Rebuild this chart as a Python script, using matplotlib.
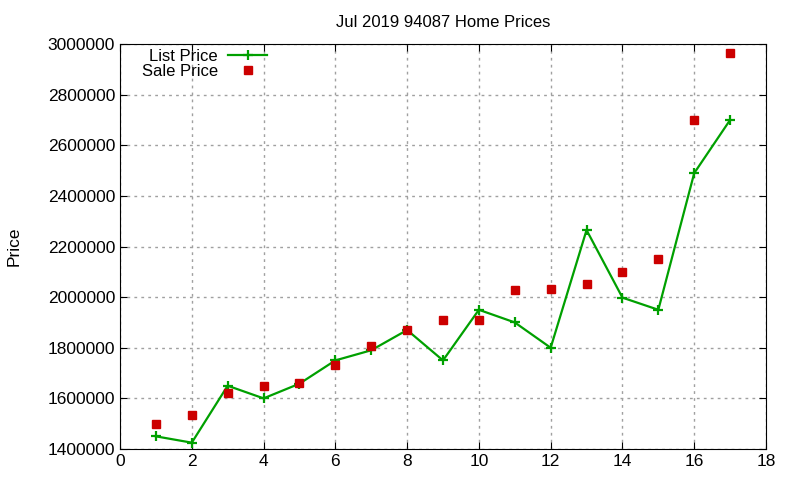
import matplotlib
matplotlib.use('agg')
import matplotlib.pyplot as plt

# values
months = list(range(1, 18))
list_price = [1450000, 1425000, 1650000, 1600000, 1658000, 1750000, 1790000, 1870000, 1750000,
              1950000, 1900000, 1800000, 2265000, 1998000, 1950000, 2490000, 2700000]
sale_price = [1499000, 1535000, 1620000, 1650000, 1659000, 1730000, 1805000, 1870000, 1910000,
              1910000, 2030000, 2034000, 2050000, 2100000, 2150000, 2700000, 2965000]

plt.rcParams['font.family'] = ['Liberation Sans', 'DejaVu Sans']

fig = plt.figure(figsize=(8, 4.8), dpi=100)
ax = fig.add_axes([0.15, 0.0646, 0.8075, 0.8437])

ax.plot(months, list_price, color='#00a000', lw=1.6, marker='+', ms=7, mew=1.6, label='List Price')
ax.plot(months, sale_price, ls='none', color='#cc0000', marker='s', ms=5.5, label='Sale Price')

ax.set_xlim(0, 18)
ax.set_ylim(1400000, 3000000)
ax.set_xticks(range(0, 19, 2))
ax.set_yticks(range(1400000, 3000001, 200000))
ax.set_yticklabels([str(v) for v in range(1400000, 3000001, 200000)])
ax.tick_params(direction='in', top=True, right=True, labelsize=12.5, length=5)
ax.grid(True, ls=(0, (2, 3)), color='#a0a0a0', lw=1)

ax.set_title('Jul 2019 94087 Home Prices', fontsize=12, pad=12)
ax.set_ylabel('Price', fontsize=12.5, labelpad=19)

ax.legend(loc='upper left', frameon=False, markerfirst=False, fontsize=12,
          bbox_to_anchor=(0.034, 0.988), handlelength=2.35, handletextpad=0.6,
          borderaxespad=0, borderpad=0, labelspacing=0)

plt.savefig('out.png')
